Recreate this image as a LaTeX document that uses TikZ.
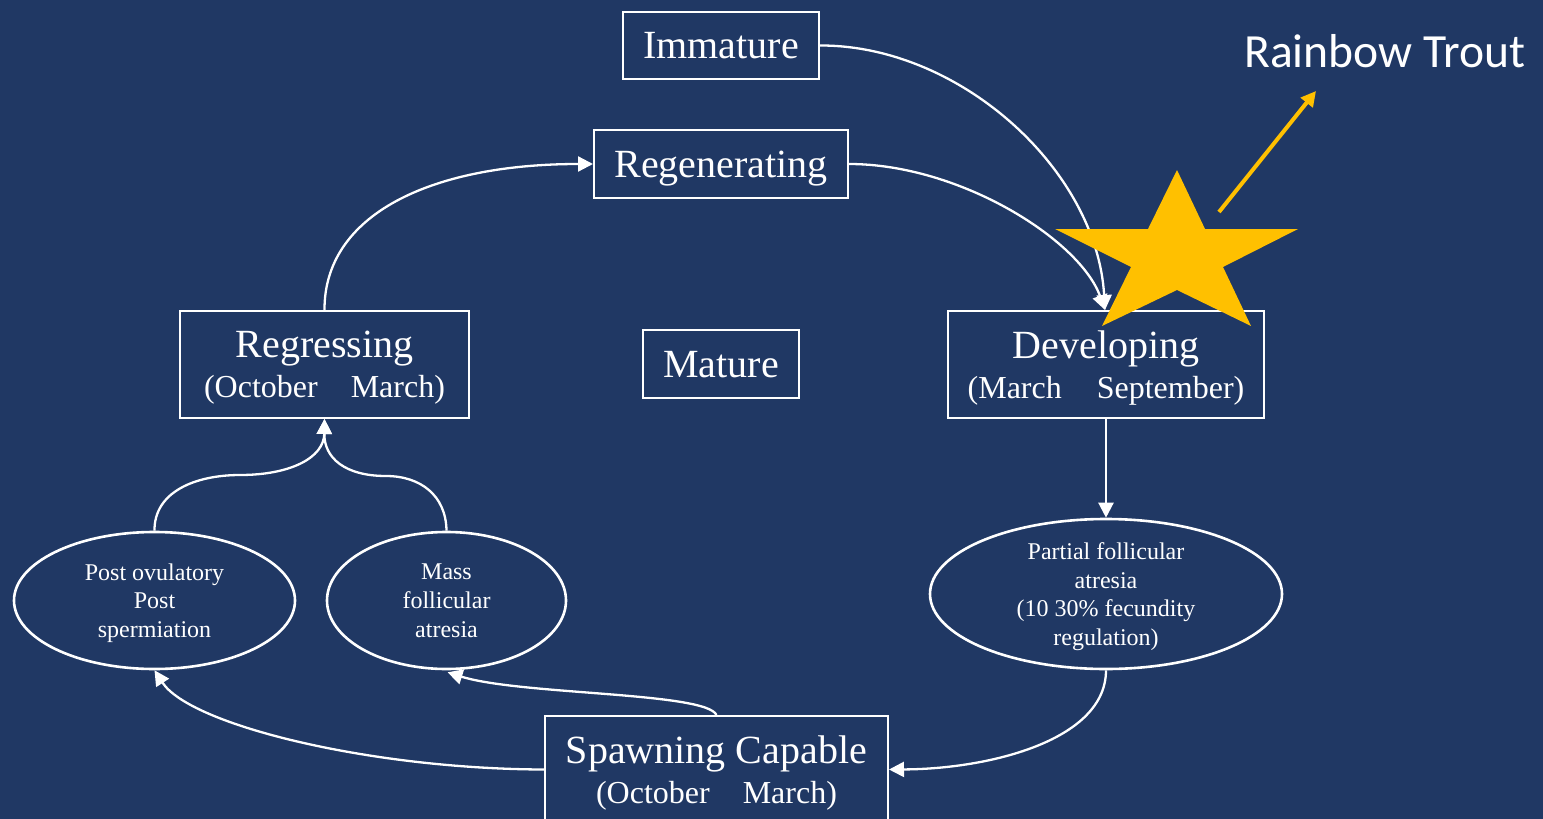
\documentclass[tikz,border=0pt]{standalone}
\usepackage{fontspec}
\setmainfont{Liberation Serif}
\newfontfamily\titlefont{Carlito}
\usetikzlibrary{arrows.meta,shapes.geometric}
\definecolor{slidebg}{HTML}{203864}
\definecolor{staryellow}{HTML}{FFC000}

\begin{document}
\begin{tikzpicture}[x=1pt,y=-1pt,
  box/.style={draw=white,line width=2pt,text=white,inner sep=0pt,align=center,
    text depth=-5pt,font=\fontsize{32}{40}\selectfont},
  oval/.style={ellipse,draw=white,line width=2.6pt,text=white,inner sep=0pt,
    align=center,text depth=-2pt,font=\fontsize{24}{28.7}\selectfont},
  big/.style={font=\fontsize{40}{40}\selectfont},
  link/.style={draw=white,line width=2.3pt,-{Triangle[width=15pt,length=15pt]}},
  pointer/.style={draw=staryellow,line width=4pt,-{Triangle[width=15pt,length=15pt]}},
]
% slide background
\fill[slidebg] (0,0) rectangle (1543,819);
\useasboundingbox (0,0) rectangle (1543,819);

% stage boxes
\node[box,big,minimum width=196pt,minimum height=67pt,text depth=-1pt] (imm) at (721,45.5) {Immature};
\node[box,big,minimum width=254pt,minimum height=68pt] (regen) at (721,164) {Regenerating};
\node[box,big,minimum width=156pt,minimum height=68pt] (mature) at (721,364) {Mature};
\node[box,minimum width=289pt,minimum height=107pt,text depth=-6pt] (regress) at (324.5,364.5)
  {{\fontsize{40}{40}\selectfont Regressing}\\(October\hspace{33pt}March)\hspace{6pt}};
\node[box,minimum width=316pt,minimum height=107pt,text depth=-6pt] (dev) at (1106,364.5)
  {{\fontsize{40}{40}\selectfont Developing}\\(March\hspace{35pt}September)};
\node[box,minimum width=343pt,minimum height=107pt] (spawn) at (716.5,769.5)
  {{\fontsize{40}{40}\selectfont Spawning Capable}\\(October\hspace{33pt}March)};

% sub-stage ovals
\node[oval,minimum width=281pt,minimum height=137pt] (postov) at (154.5,600.5)
  {Post ovulatory\\Post\\spermiation};
\node[oval,minimum width=239pt,minimum height=137pt] (mass) at (446.5,600.5)
  {Mass\\follicular\\atresia};
\node[oval,minimum width=352pt,minimum height=150pt] (partial) at (1106,594)
  {Partial follicular\\atresia\\(10 30\% fecundity\\regulation)};

% cycle connectors
\draw[link] (imm.east) .. controls (960,45) and (1097,170) .. ([xshift=-1pt]dev.north);
\draw[link] (regen.east) .. controls (960,164) and (1080,240) .. ([xshift=-1pt]dev.north);
\draw[link] (regress.north) .. controls (324,215) and (430,164) .. (regen.west);
\draw[link] (dev.south) -- (partial.north);
\draw[link] (partial.south) .. controls (1106,740) and (990,769) .. (spawn.east);
\draw[link] (spawn.west) .. controls (370,769) and (190,725) .. (postov.south);
\draw[link] (spawn.north) .. controls (706,692) and (520,695) .. ([xshift=1pt,yshift=-2pt]mass.south);
\draw[link] (postov.north) .. controls (154,492) and (195,475) .. (240,475)
  .. controls (290,475) and (324,458) .. (regress.south);
\draw[link] (mass.north) .. controls (446,495) and (420,476) .. (386,476)
  .. controls (345,476) and (324,458) .. (regress.south);

% species marker
\fill[staryellow] (1177,170) -- (1205,229) -- (1298,229) -- (1223,267) -- (1251,326)
  -- (1177,290) -- (1102,326) -- (1131,267) -- (1055,229) -- (1148,229) -- cycle;
\coordinate (ptrfrom) at (1219,212);
\coordinate (ptrto) at (1316,91);
\draw[pointer] (ptrfrom) -- (ptrto);
\node[text=white,inner sep=0pt,anchor=base west,font=\titlefont\fontsize{47.6}{47.6}\selectfont]
  (title) at (1244,67) {Rainbow Trout};
\end{tikzpicture}
\end{document}
